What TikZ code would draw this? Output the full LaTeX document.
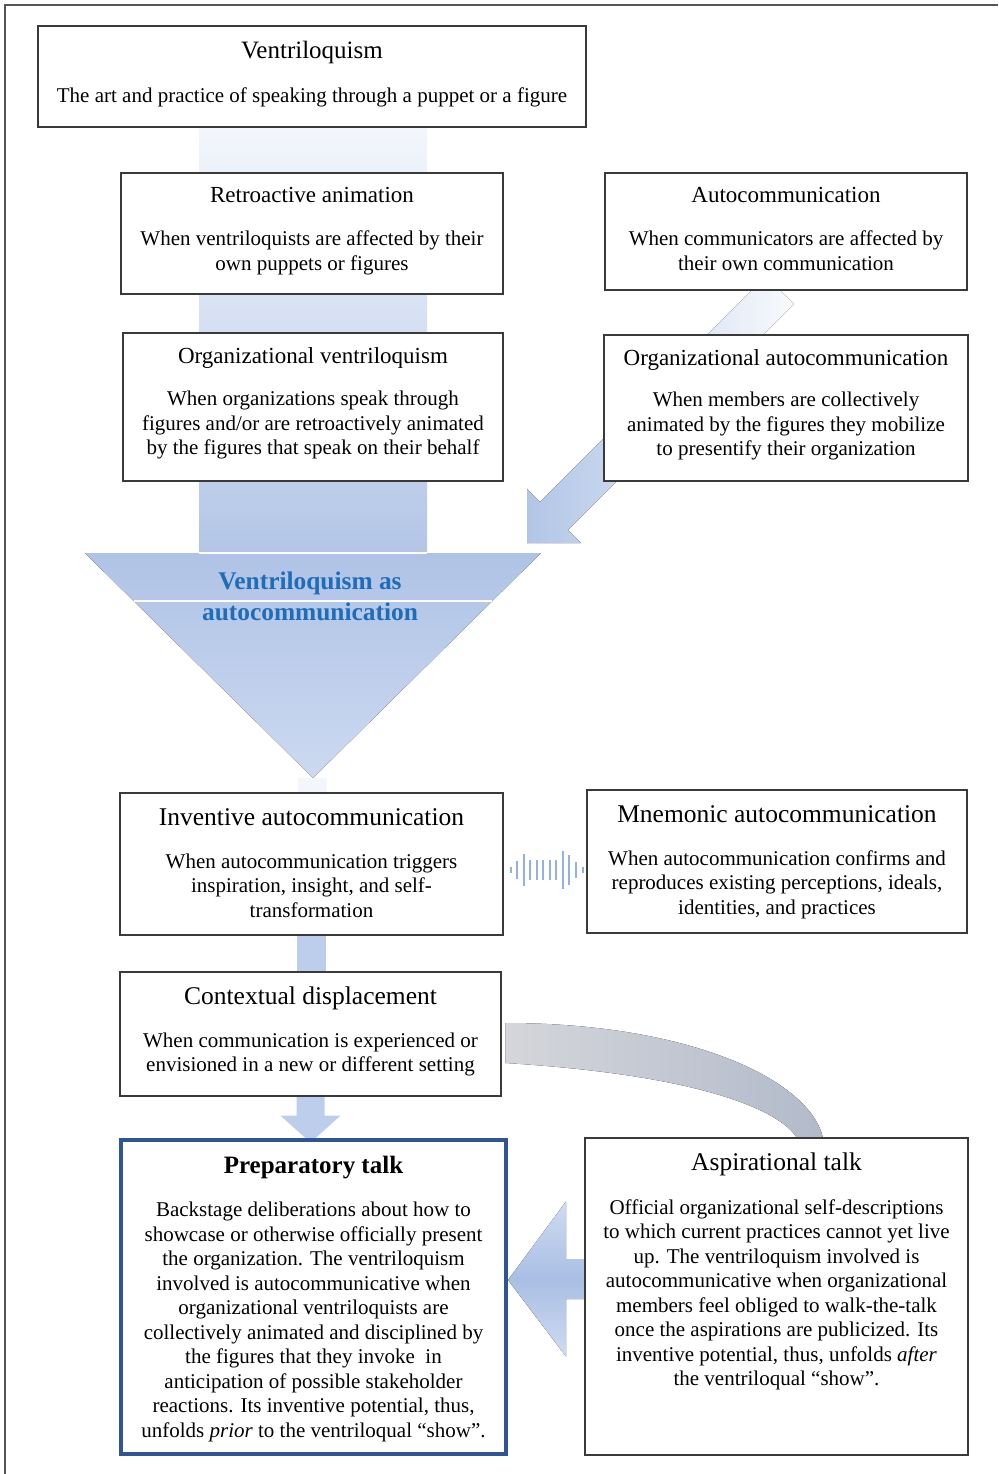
\documentclass[tikz,border=0pt]{standalone}
\usepackage{fontspec}
\setmainfont{Liberation Serif}
\usetikzlibrary{positioning, calc, backgrounds}
\definecolor{boxLine}{HTML}{3A3A3A}
\definecolor{pageLine}{HTML}{555555}
\definecolor{prepBlue}{HTML}{2F5597}
\definecolor{headBlue}{HTML}{1F6DB8}
\definecolor{bandTop}{HTML}{F3F6FB}
\definecolor{bandBot}{HTML}{B3C6E7}
\definecolor{triTop}{HTML}{AFC3E6}
\definecolor{triBot}{HTML}{CCD9F0}
\definecolor{flowBlue}{HTML}{BCCEEB}
\definecolor{arrowBlue}{HTML}{A9BFE4}
\definecolor{arrowPale}{HTML}{CFDBF1}
\definecolor{grayL}{HTML}{D5D6DB}
\definecolor{grayR}{HTML}{B2BACA}
\definecolor{waveBlue}{HTML}{93B1E2}

\newcommand\boxtitle[2][23]{{\fontsize{#1}{#1}\selectfont #2}}

\begin{document}
\begin{tikzpicture}[x=1pt, y=-1pt,
  box/.style={draw=boxLine, line width=1.2pt, fill=white, inner sep=0pt},
  txt/.style={align=center, inner sep=0pt, font=\fontsize{21}{24.5}\selectfont},
  flow/.style={fill=flowBlue},
  wave/.style={draw=waveBlue, line width=2pt},
]
  \useasboundingbox (0,0) rectangle (998,1474);
  \draw[pageLine, line width=1.3pt] (5,1474) -- (5,5) -- (998,5);

  % boxes
  \node[box, minimum width=548, minimum height=101] (vent) at (312,76.5) {};
  \node[box, minimum width=382, minimum height=121] (retro) at (312,233.5) {};
  \node[box, minimum width=362, minimum height=117] (autoc) at (786,231.5) {};
  \node[box, minimum width=380, minimum height=148] (orgv) at (313,407) {};
  \node[box, minimum width=364, minimum height=146] (orga) at (786,408) {};
  \node[box, minimum width=383, minimum height=142] (inv) at (311.5,864) {};
  \node[box, minimum width=380, minimum height=143] (mnem) at (777,861.5) {};
  \node[box, minimum width=381, minimum height=124] (ctx) at (310.5,1034) {};
  \node[box, draw=prepBlue, line width=4pt, minimum width=385, minimum height=314] (prep) at (313.5,1297) {};
  \node[box, minimum width=383, minimum height=317] (asp) at (776.5,1296.5) {};

  % texts
  \node[txt, below=16pt of vent.north] (ventT) {\boxtitle[25]{Ventriloquism}\\[19.5pt]
    The art and practice of speaking through a puppet or a figure};
  \node[txt, below=15pt of retro.north] (retroT) {\boxtitle{Retroactive animation}\\[18.5pt]
    When ventriloquists are affected by their\\own puppets or figures};
  \node[txt, below=15pt of autoc.north] (autocT) {\boxtitle{Autocommunication}\\[18.5pt]
    When communicators are affected by\\their own communication};
  \node[txt, below=15pt of orgv.north] (orgvT) {\boxtitle{Organizational ventriloquism}\\[17.5pt]
    When organizations speak through\\figures and/or are retroactively animated\\by the figures that speak on their behalf};
  \node[txt, below=15pt of orga.north] (orgaT) {\boxtitle{Organizational autocommunication}\\[16.5pt]
    When members are collectively\\animated by the figures they mobilize\\to presentify their organization};
  \node[txt, below=16pt of inv.north] (invT) {\boxtitle[25.5]{Inventive autocommunication}\\[18.5pt]
    When autocommunication triggers\\inspiration, insight, and self-\\transformation};
  \node[txt, below=16pt of mnem.north] (mnemT) {\boxtitle[25.5]{Mnemonic autocommunication}\\[18.5pt]
    When autocommunication confirms and\\reproduces existing perceptions, ideals,\\identities, and practices};
  \node[txt, below=15pt of ctx.north] (ctxT) {\boxtitle[25.5]{Contextual displacement}\\[18.5pt]
    When communication is experienced or\\envisioned in a new or different setting};
  \node[txt, below=18pt of prep.north] (prepT) {\textbf{\boxtitle[25]{Preparatory talk}}\\[18.5pt]
    Backstage deliberations about how to\\showcase or otherwise officially present\\the organization. The ventriloquism\\
    involved is autocommunicative when\\organizational ventriloquists are\\collectively animated and disciplined by\\
    the figures that they invoke \ in\\anticipation of possible stakeholder\\reactions. Its inventive potential, thus,\\
    unfolds \textit{prior} to the ventriloqual “show”.};
  \node[txt, below=15pt of asp.north] (aspT) {\boxtitle[25.5]{Aspirational talk}\\[19.5pt]
    Official organizational self-descriptions\\to which current practices cannot yet live\\up. The ventriloquism involved is\\
    autocommunicative when organizational\\members feel obliged to walk-the-talk\\once the aspirations are publicized. Its\\
    inventive potential, thus, unfolds \textit{after}\\the ventriloqual “show”.};

  % funnel
  \coordinate (triTL) at (85,553);
  \coordinate (triTR) at (541,553);
  \coordinate (triTip) at (313,778);
  \coordinate (diagTip) at (527,543);
  \coordinate (aspTip) at ([yshift=17pt]prep.east);
  \coordinate (wave) at (545,870);

  \begin{scope}[on background layer]
    \fill[top color=bandTop, bottom color=bandBot] ([xshift=-113pt]vent.south) rectangle ($(triTip |- triTL)+(114,0)$);
    \fill[top color=triTop, bottom color=triBot] (triTL) -- (triTR) -- (triTip) -- cycle;
    \draw[white, line width=1.2pt] ($(triTip |- triTL)+(-114,0)$) -- ++(228,0);
    \draw[white, line width=1.2pt] ($(triTL)!0.213!(triTip)$) -- ($(triTR)!0.213!(triTip)$);
    \fill[fill=bandTop] ([xshift=-15pt]triTip) rectangle ([xshift=15pt]inv.north);

    % diagonal arrow from the right column
    \fill[left color=arrowBlue!90!white, right color=arrowBlue!8!white]
      (diagTip) -- ++(0,-53.8) -- ++(12.8,12.8) -- ++(226.1,-226.1) -- ++(28.2,28.2)
      -- ++(-226.1,226.1) -- ++(12.8,12.8) -- cycle;

    % downward flow
    \fill[flow] ([xshift=-15pt]inv.south) rectangle ([xshift=15pt]ctx.north);
    \fill[flow] ([xshift=-14pt]ctx.south) -- ++(0,19) -- ++(-16,0) -- ++(30,27)
      -- ++(30,-27) -- ++(-16,0) -- ++(0,-19) -- cycle;

    % curved band to aspirational talk
    \fill[left color=grayL, right color=grayR]
      ([xshift=4pt,yshift=11pt]ctx.east) .. controls (690,1023) and (810,1080) .. (823,1138)
      -- (797,1138) .. controls (780,1110) and (700,1075) .. ([xshift=4pt,yshift=-29pt]ctx.east) -- cycle;

    % arrow into preparatory talk
    \fill[top color=arrowPale, bottom color=arrowPale, middle color=arrowBlue]
      (aspTip) -- ++(58,-78.5) -- ++(0,57.5) -- ++(20,0) -- ++(0,40) -- ++(-20,0)
      -- ++(0,57.5) -- cycle;
  \end{scope}

  \node[font=\bfseries\fontsize{25.4}{31}\selectfont, text=headBlue, align=center, inner sep=0pt]
    (triT) at (310,596) {Ventriloquism as\\autocommunication};

  % oscillation between inventive and mnemonic
  \foreach \dx/\h in {-34/3, -28/9, -21/16, -15/10, -8/10, -2/10, 5/10, 11/10, 18/19, 24/15, 31/8, 38/3}
    \draw[wave] ([xshift=\dx pt, yshift=\h pt]wave) -- ([xshift=\dx pt, yshift=-\h pt]wave);
\end{tikzpicture}
\end{document}
